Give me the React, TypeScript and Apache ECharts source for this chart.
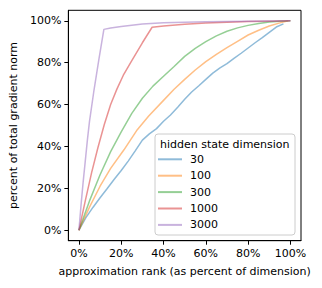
import React, { useEffect, useRef } from "react";
import * as echarts from "echarts";

const seriesNames = ["30", "100", "300", "1000", "3000"];
const seriesColors = [
  "rgba(31,119,180,0.5)",
  "rgba(255,127,14,0.5)",
  "rgba(44,160,44,0.5)",
  "rgba(214,39,40,0.5)",
  "rgba(148,103,189,0.5)",
];

const x30 = [0, 3.3, 6.7, 10, 13.3, 16.7, 20, 23.3, 26.7, 30, 33.3, 36.7, 40, 43.3, 46.7, 50, 53.3, 56.7, 60, 63.3, 66.7, 70, 73.3, 76.7, 80, 83.3, 86.7, 90, 93.3, 96.7];
const y30 = [0, 6, 11, 15.5, 19.8, 24.3, 28.5, 33, 38, 43, 46, 48.5, 52, 55, 58.7, 62.5, 66, 69, 72, 75, 77.5, 79.5, 82, 84.5, 87, 89.5, 92, 94.5, 97, 98.5];

const x100 = [0, 5, 10, 15, 21.3, 27.6, 33, 40, 45, 50, 55, 60, 65, 70, 75, 80, 85, 90, 95, 99];
const y100 = [0, 11, 21, 29.5, 38.4, 48, 54.5, 62, 67.3, 72, 76.5, 80.5, 84, 87.2, 90.2, 93.2, 95.5, 97.5, 99, 100];

const x300 = [0, 5, 10, 15, 20, 25, 30, 35, 40, 45, 50, 55, 60, 65, 70, 75, 80, 85, 90, 95, 100];
const y300 = [0, 14, 26.5, 37.5, 47, 55.8, 63, 68.8, 73.5, 78.2, 83, 86.8, 90, 92.8, 95, 96.6, 97.8, 98.7, 99.4, 99.8, 100];

const x1000 = [0, 3, 6, 9, 12, 15, 18, 21, 25, 30, 34.6, 40, 50, 60, 70, 80, 90, 100];
const y1000 = [0, 14, 27.5, 39.5, 50.5, 60, 67.5, 74, 81, 89.5, 96.9, 97.5, 98.3, 98.9, 99.3, 99.6, 99.8, 100];

const x3000 = [0, 1, 2, 3, 4, 5, 7, 9.4, 11.8, 15, 20, 30, 40, 50, 60, 70, 80, 90, 100];
const y3000 = [0, 12, 23, 33, 43, 52, 66, 81.3, 95.9, 96.6, 97.3, 98.5, 99.1, 99.3, 99.5, 99.7, 99.8, 99.9, 100];

const tickValues = [0, 20, 40, 60, 80, 100];

const xsList = [x30, x100, x300, x1000, x3000];
const ysList = [y30, y100, y300, y1000, y3000];

const FONT = "DejaVu Sans";

export default function App() {
  const ref = useRef<HTMLDivElement>(null);
  useEffect(() => {
    if (!ref.current) return;
    const chart = echarts.init(ref.current, undefined, { renderer: "svg" });
    const axisCommon = {
      type: "value",
      min: -5,
      max: 105,
      splitLine: { show: false },
      axisLine: { show: true, onZero: false, lineStyle: { color: "#000", width: 1 } },
      axisTick: { show: true, length: 4, lineStyle: { color: "#000", width: 1 }, customValues: tickValues },
      axisLabel: {
        color: "#000",
        fontSize: 11,
        fontFamily: FONT,
        margin: 7,
        customValues: tickValues,
        formatter: (v: number) => `${v}%`,
      },
      nameLocation: "middle",
      nameTextStyle: { color: "#000", fontSize: 11, fontFamily: FONT },
    };
    chart.setOption({
      animation: false,
      grid: {
        left: 68,
        top: 10.3,
        width: 233,
        height: 230.4,
        containLabel: false,
        show: true,
        borderColor: "#000",
        borderWidth: 1,
        backgroundColor: "transparent",
      },
      xAxis: {
        ...axisCommon,
        name: "approximation rank (as percent of dimension)",
        nameGap: 25,
      },
      yAxis: {
        ...axisCommon,
        name: "percent of total gradient norm",
        nameGap: 46,
      },
      legend: {
        orient: "vertical",
        left: 158,
        top: 151.3,
        padding: 0,
        itemGap: 0.4,
        itemWidth: 24,
        itemHeight: 2,
        icon: "rect",
        z: 20,
        data: seriesNames,
        textStyle: {
          color: "#000",
          fontSize: 11,
          fontFamily: FONT,
          lineHeight: 16,
          padding: [0, 0, 0, 3],
        },
      },
      graphic: [
        {
          type: "rect",
          z: 10,
          shape: { x: 155, y: 134, width: 140, height: 101, r: 3 },
          style: { fill: "rgba(255,255,255,0.8)", stroke: "#cccccc", lineWidth: 1 },
        },
        {
          type: "text",
          z: 21,
          x: 160,
          y: 144,
          style: {
            text: "hidden state dimension",
            fill: "#000",
            fontSize: 11,
            fontFamily: FONT,
            verticalAlign: "middle",
            align: "left",
          },
        },
      ],
      series: seriesNames.map((name, i) => ({
        name,
        type: "line",
        showSymbol: false,
        color: seriesColors[i],
        lineStyle: { width: 1.5, color: seriesColors[i] },
        data: xsList[i].map((x, j) => [x, ysList[i][j]]),
      })),
    });
    return () => chart.dispose();
  }, []);
  return (
    <div
      ref={ref}
      style={{ position: "absolute", left: 0, top: 0, width: 322, height: 288, background: "#fff" }}
    />
  );
}
